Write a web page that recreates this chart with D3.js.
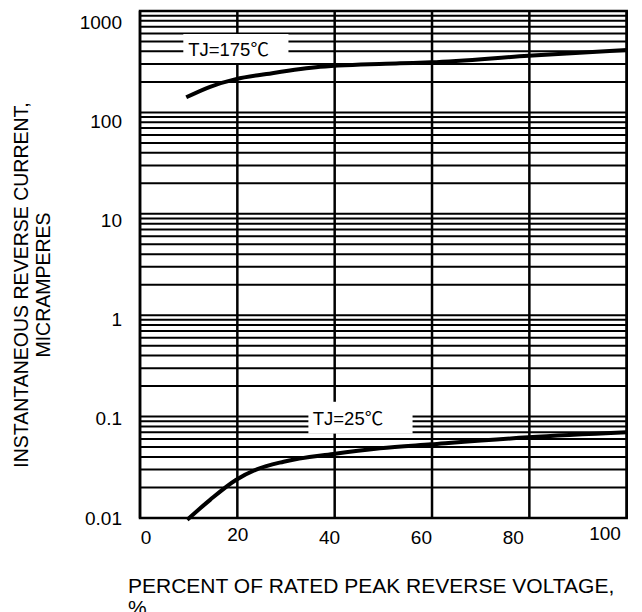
<!DOCTYPE html>
<html><head><meta charset="utf-8">
<script src="https://cdn.jsdelivr.net/npm/d3@7"></script>
<style>body{margin:0;background:#fff}svg{display:block}text{font-family:"Liberation Sans",Arial,"Noto Sans CJK SC",sans-serif;fill:#000}</style>
</head><body><svg id="c" width="642" height="612"></svg>
<script>
// ---- data ----
const xTicks = [0, 20, 40, 60, 80, 100];
const xTickLabels = ["0", "20", "40", "60", "80", "100"];
const yTicks = [0.01, 0.1, 1, 10, 100, 1000];
const yTickLabels = ["0.01", "0.1", "1", "10", "100", "1000"];
const pct175 = [9.5, 14.4, 19.7, 26, 37, 53.4, 59.8, 79.8, 100];
const cur175 = [141, 179, 213, 239, 282, 305, 312, 362, 412];
const pct25 = [9.7, 14.4, 19.7, 24, 29.5, 39.7, 49.3, 59.8, 79.8, 100];
const cur25 = [0.0096, 0.0151, 0.0237, 0.0302, 0.0359, 0.0428, 0.0487, 0.0533, 0.0625, 0.070];
const label175 = "TJ=175℃";
const label25 = "TJ=25℃";
const xTitle = ["PERCENT OF RATED PEAK REVERSE VOLTAGE,", "%"];
const yTitle = ["INSTANTANEOUS REVERSE CURRENT,", "MICRAMPERES"];

// ---- layout ----
const L = 140, R = 626.7, T = 11, B = 518;
const svg = d3.select("#c");
const x = d3.scaleLinear().domain([0, 100]).range([L, R]);
const y = d3.scaleLog().domain([0.01, 1000]).range([B, T]);
// label placement scales (labels in the original are slightly offset from gridlines)
const xLab = d3.scaleLinear().domain([0, 100]).range([146, 605]);
const yLab = d3.scaleLog().domain([0.01, 1000]).range([518, 22]);
const xLabDy = [0, -3, 0, 0, 0, -4]; // style: small vertical shifts seen in the original

// horizontal gridlines (log minor)
const hLines = [];
yTicks.slice(0, -1).forEach(d => { for (let m = 1; m <= 9; m++) hLines.push(d * m); });
hLines.push(1000);
svg.append("g").selectAll("line").data(hLines).join("line")
  .attr("x1", L).attr("x2", R).attr("y1", d => y(d)).attr("y2", d => y(d))
  .attr("stroke", "#000").attr("stroke-width", 2);
svg.append("g").selectAll("line").data(xTicks).join("line")
  .attr("x1", d => x(d)).attr("x2", d => x(d)).attr("y1", T).attr("y2", B)
  .attr("stroke", "#000").attr("stroke-width", 2.5);
svg.append("rect").attr("x", L).attr("y", T).attr("width", R - L).attr("height", B - T)
  .attr("fill", "none").attr("stroke", "#000").attr("stroke-width", 2.5);

// label boxes
svg.append("rect").attr("x", x(8.9)).attr("y", y(593)).attr("width", x(30.5) - x(8.9)).attr("height", y(307) - y(593)).attr("fill", "#fff");
svg.append("rect").attr("x", x(34.6)).attr("y", y(0.14)).attr("width", x(56) - x(34.6)).attr("height", y(0.068) - y(0.14)).attr("fill", "#fff");

// curves
const line = d3.line().x(d => x(d[0])).y(d => y(d[1])).curve(d3.curveMonotoneX);
svg.append("path").datum(pct175.map((p, i) => [p, cur175[i]])).attr("d", line)
  .attr("fill", "none").attr("stroke", "#000").attr("stroke-width", 4);
svg.append("path").datum(pct25.map((p, i) => [p, cur25[i]])).attr("d", line)
  .attr("fill", "none").attr("stroke", "#000").attr("stroke-width", 4);

// curve labels
svg.append("text").attr("x", x(9.9)).attr("y", y(413)).attr("dy", "0.35em").attr("font-size", 18.5).text(label175);
svg.append("text").attr("x", x(35.5)).attr("y", y(0.096)).attr("dy", "0.35em").attr("font-size", 18.5).text(label25);

// tick labels
svg.append("g").selectAll("text").data(xTicks).join("text")
  .attr("x", d => xLab(d)).attr("y", (d, i) => 537 + xLabDy[i]).attr("dy", "0.35em").attr("text-anchor", "middle")
  .attr("font-size", 19).text((d, i) => xTickLabels[i]);
svg.append("g").selectAll("text").data(yTicks).join("text")
  .attr("x", 122).attr("y", d => yLab(d)).attr("dy", "0.35em").attr("text-anchor", "end")
  .attr("font-size", 19).text((d, i) => yTickLabels[i]);

// axis titles
svg.append("g").selectAll("text").data(xTitle).join("text")
  .attr("x", 128).attr("y", (d, i) => 593 + i * 22).attr("font-size", 21).text(d => d);
svg.append("g").selectAll("text").data(yTitle).join("text")
  .attr("transform", (d, i) => `translate(${28 + i * 22},285) rotate(-90)`)
  .attr("text-anchor", "middle").attr("font-size", 19.5).text(d => d);
</script></body></html>
